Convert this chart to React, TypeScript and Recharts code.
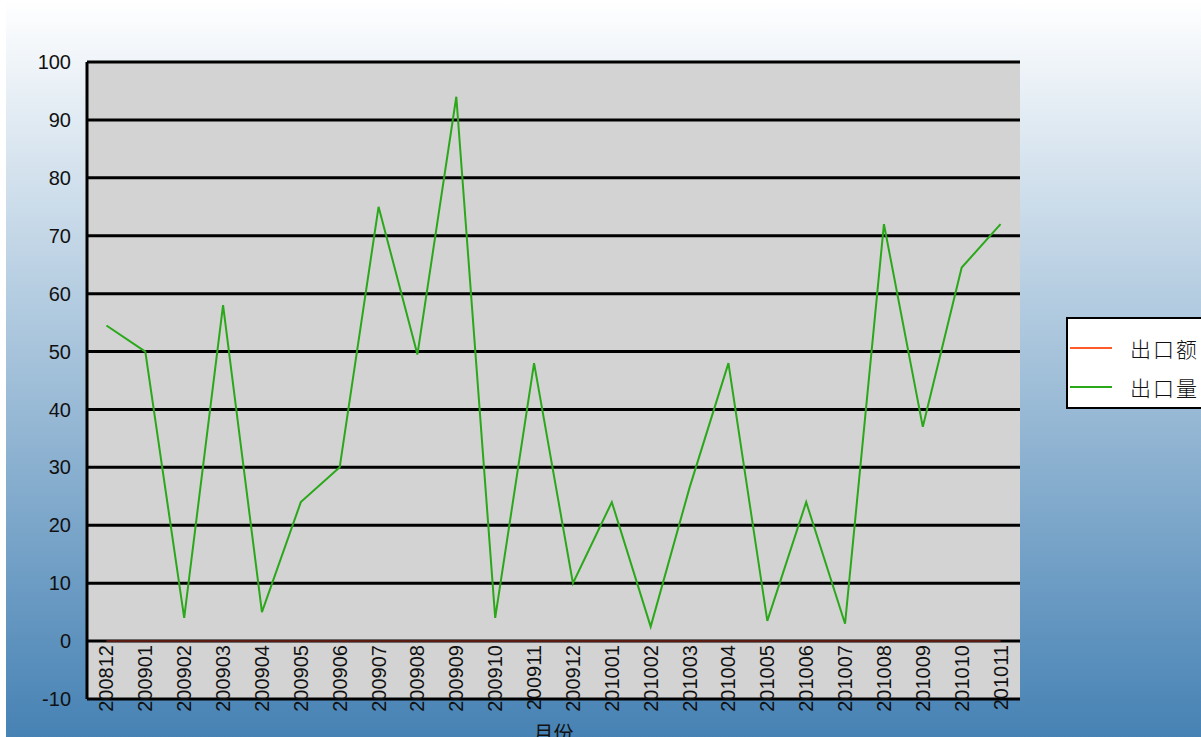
import React from "react"
import {
  ComposedChart,
  Line,
  XAxis,
  YAxis,
  CartesianGrid,
} from "recharts"

const months = [
  "200812", "200901", "200902", "200903", "200904", "200905", "200906", "200907",
  "200908", "200909", "200910", "200911", "200912", "201001", "201002", "201003",
  "201004", "201005", "201006", "201007", "201008", "201009", "201010", "201011",
]

// 出口额 sits on the zero line the whole way
const exportValue = [
  0, 0, 0, 0, 0, 0, 0, 0, 0, 0, 0, 0,
  0, 0, 0, 0, 0, 0, 0, 0, 0, 0, 0, 0,
]

const exportVolume = [
  54.5, 50, 4, 58, 5, 24, 30, 75, 49.5, 94, 4, 48,
  10, 24, 2.5, 26.5, 48, 3.5, 24, 3, 72, 37, 64.5, 72,
]

const yTicks = [-10, 0, 10, 20, 30, 40, 50, 60, 70, 80, 90, 100]

const data = months.map((m, i) => ({
  month: m,
  amount: exportValue[i],
  volume: exportVolume[i],
}))

const legendItems = [
  { label: "出口额", color: "#ff5a2a" },
  { label: "出口量", color: "#2aa81a" },
]

// half a category band, so points sit in the middle of each slot
const bandPad = 933 / months.length / 2

function MonthTick({ x, y, payload }: any) {
  // labels hang from the zero line, not from the bottom edge
  const ty = y - 54
  return (
    <text
      x={x}
      y={ty}
      transform={`rotate(-90, ${x}, ${ty})`}
      textAnchor="end"
      dominantBaseline="central"
      fontSize={20}
      fontFamily="'Liberation Sans', Arial, sans-serif"
      fill="#111"
    >
      {payload.value}
    </text>
  )
}

function LegendBox() {
  return (
    <div
      style={{
        position: "absolute",
        left: 1066,
        top: 317,
        width: 150,
        height: 88,
        border: "2px solid #000",
        backgroundColor: "#fff",
      }}
    >
      {legendItems.map(({ label, color }, i) => (
        <div
          key={label}
          style={{
            position: "absolute",
            left: 2,
            top: i === 0 ? 15 : 54,
            display: "flex",
            alignItems: "center",
            height: 28,
          }}
        >
          <svg width="42" height="4" style={{ flexShrink: 0 }}>
            <line x1="0" y1="2" x2="42" y2="2" stroke={color} strokeWidth="2" />
          </svg>
          <span
            style={{
              marginLeft: 18,
              fontSize: 21,
              letterSpacing: "2px",
              color: "#111",
              fontFamily: "'Noto Sans CJK SC', sans-serif",
              fontWeight: 300,
              whiteSpace: "nowrap",
            }}
          >
            {label}
          </span>
        </div>
      ))}
    </div>
  )
}

export default function App() {
  return (
    <div
      style={{
        position: "absolute",
        left: 0,
        top: 0,
        width: 1201,
        height: 737,
        overflow: "hidden",
        backgroundColor: "#fff",
      }}
    >
      <div
        style={{
          position: "absolute",
          left: 6,
          top: 0,
          width: 1195,
          height: 737,
          background: "linear-gradient(to bottom, #ffffff 0%, #4682b4 100%)",
        }}
      />
      <div style={{ position: "absolute", left: 0, top: 0 }}>
        <ComposedChart
          width={1201}
          height={737}
          data={data}
          margin={{ top: 62, right: 181, bottom: 0, left: 0 }}
        >
          <CartesianGrid
            vertical={false}
            stroke="#000"
            strokeWidth={3}
            fill="#d3d3d3"
            strokeOpacity={1}
          />
          <XAxis
            dataKey="month"
            height={38}
            interval={0}
            padding={{ left: bandPad, right: bandPad }}
            tickLine={false}
            axisLine={false}
            tickSize={0}
            tickMargin={0}
            tick={<MonthTick />}
            label={{
              value: "月份",
              position: "insideTop",
              offset: 28,
              fontSize: 20,
              fill: "#111",
              fontFamily: "'Noto Sans CJK SC', sans-serif",
            }}
          />
          <YAxis
            width={87}
            domain={[-10, 100]}
            ticks={yTicks}
            interval={0}
            tickLine={false}
            tickSize={0}
            tickMargin={16}
            axisLine={{ stroke: "#000", strokeWidth: 3 }}
            tick={{ fontSize: 20, fill: "#111", fontFamily: "'Liberation Sans', Arial, sans-serif" }}
          />
          <Line
            type="linear"
            dataKey="amount"
            name="出口额"
            stroke="#5a1c12"
            strokeWidth={2}
            dot={false}
            isAnimationActive={false}
          />
          <Line
            type="linear"
            dataKey="volume"
            name="出口量"
            stroke="#2aa81a"
            strokeWidth={2}
            dot={false}
            isAnimationActive={false}
          />
        </ComposedChart>
      </div>
      <LegendBox />
    </div>
  )
}
